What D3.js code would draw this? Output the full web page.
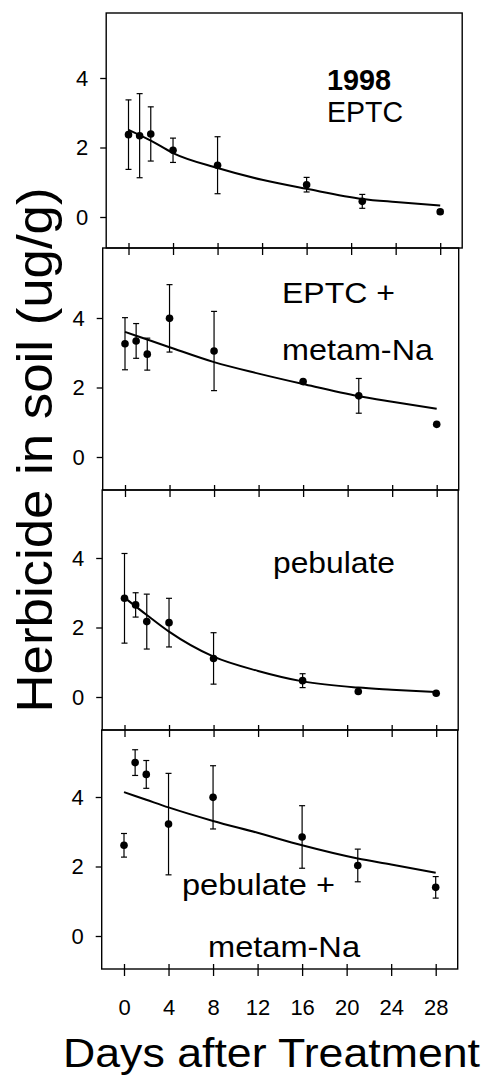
<!DOCTYPE html>
<html>
<head>
<meta charset="utf-8">
<script src="https://cdn.jsdelivr.net/npm/d3@7"></script>
<style>
  body { margin: 0; background: #fff; }
  svg { display: block; font-family: 'Liberation Sans', Arial, sans-serif; }
</style>
</head>
<body>
<svg></svg>
<script>
// sampling days and tick values
const days = [0, 1, 2, 4, 8, 16, 21, 28]
const xTicks = [0, 4, 8, 12, 16, 20, 24, 28]
const yTicks = [0, 2, 4]

// means and standard deviations (ug/g) per treatment
const eptcMean = [2.37, 2.34, 2.39, 1.92, 1.49, 0.93, 0.45, 0.15]
const eptcSd = [1.0, 1.21, 0.78, 0.35, 0.82, 0.21, 0.2, 0.06]
const eptcMetamMean = [3.26, 3.34, 2.96, 3.99, 3.05, 2.17, 1.76, 0.94]
const eptcMetamSd = [0.75, 0.5, 0.46, 0.97, 1.14, 0, 0.5, 0]
const pebulateMean = [2.84, 2.65, 2.17, 2.14, 1.11, 0.47, 0.16, 0.11]
const pebulateSd = [1.29, 0.35, 0.79, 0.7, 0.74, 0.2, 0, 0]
const pebulateMetamMean = [2.61, 4.99, 4.65, 3.22, 3.99, 2.85, 2.03, 1.4]
const pebulateMetamSd = [0.34, 0.37, 0.4, 1.46, 0.91, 0.9, 0.47, 0.31]

// fitted decay curves
const fitDays = [0, 2, 4, 8, 12, 16, 21, 24, 28]
const eptcFit = [2.51, 2.2, 1.84, 1.41, 1.07, 0.81, 0.52, 0.43, 0.33]
const eptcMetamFit = [3.6, 3.38, 3.16, 2.73, 2.4, 2.1, 1.75, 1.59, 1.39]
const pebulateFit = [2.86, 2.36, 1.88, 1.16, 0.75, 0.45, 0.27, 0.21, 0.14]
const pebulateMetamFit = [4.14, 3.92, 3.7, 3.31, 2.97, 2.61, 2.23, 2.06, 1.82]

const width = 491
const height = 1076
const svg = d3.select('svg').attr('width', width).attr('height', height)

// panel frames (the scan is slightly skewed, hence dx)
const panels = [
    {mean: eptcMean, sd: eptcSd, fit: eptcFit, top: 13, bottom: 248, zero: 217, dx: 4.5,
     labels: [{t: '1998', x: 327, y: 90, w: 64, bold: true}, {t: 'EPTC', x: 327, y: 122, w: 76}]},
    {mean: eptcMetamMean, sd: eptcMetamSd, fit: eptcMetamFit, top: 248, bottom: 490, zero: 457, dx: 1,
     labels: [{t: 'EPTC +', x: 282, y: 303, w: 113}, {t: 'metam-Na', x: 282, y: 360, w: 151}]},
    {mean: pebulateMean, sd: pebulateSd, fit: pebulateFit, top: 490, bottom: 730, zero: 697, dx: 0.5,
     labels: [{t: 'pebulate', x: 273, y: 573, w: 122}]},
    {mean: pebulateMetamMean, sd: pebulateMetamSd, fit: pebulateMetamFit, top: 730, bottom: 969, zero: 936, dx: 0,
     labels: [{t: 'pebulate +', x: 182, y: 895, w: 153}, {t: 'metam-Na', x: 208, y: 957, w: 152}]}
]

const left = 101.7
const right = 457.7
const xScale = d3.scaleLinear().domain([0, 28]).range([124, 435.7])
const font = "'Liberation Sans', Arial, sans-serif"

panels.forEach((p, i) => {
    const g = svg.append('g').attr('transform', `translate(${p.dx},0)`)
    const yScale = d3.scaleLinear().domain([0, 4]).range([p.zero, p.zero - 139])

    g.append('rect')
        .attr('x', left).attr('y', p.top)
        .attr('width', right - left).attr('height', p.bottom - p.top)
        .attr('fill', 'none').attr('stroke', '#000').attr('stroke-width', 1.4)

    // y axis
    const yAxis = d3.axisLeft(yScale).tickValues(yTicks).tickFormat(d3.format('d'))
        .tickSizeInner(6).tickSizeOuter(0).tickPadding(12)
    const ya = g.append('g').attr('transform', `translate(${left},0)`).call(yAxis)
    ya.select('.domain').remove()
    ya.selectAll('line').attr('stroke', '#000').attr('stroke-width', 1.3)
    ya.selectAll('text').attr('font-size', 22).attr('fill', '#000').style('font-family', font)

    // crossing x ticks on the bottom edge
    const xAxis = d3.axisBottom(xScale).tickValues(xTicks).tickSizeInner(7).tickSizeOuter(0).tickPadding(23)
    const xa = g.append('g').attr('transform', `translate(0,${p.bottom})`).call(xAxis)
    xa.select('.domain').remove()
    xa.selectAll('line').attr('y1', -5).attr('stroke', '#000').attr('stroke-width', 1.3)
    if (i === panels.length - 1) {
        xa.selectAll('text').attr('font-size', 22).attr('fill', '#000').style('font-family', font)
    } else {
        xa.selectAll('text').remove()
    }

    // fitted curve
    const line = d3.line()
        .x((d, j) => xScale(fitDays[j]))
        .y(d => yScale(d))
        .curve(d3.curveMonotoneX)
    g.append('path').datum(p.fit)
        .attr('d', line)
        .attr('fill', 'none').attr('stroke', '#000').attr('stroke-width', 2)

    // error bars
    const rows = days.map((d, j) => ({day: d, mean: p.mean[j], sd: p.sd[j]})).filter(r => r.sd > 0)
    const eg = g.selectAll('.err').data(rows).enter().append('g').attr('class', 'err')
        .attr('stroke', '#000').attr('stroke-width', 1.2)
    eg.append('line')
        .attr('x1', r => xScale(r.day)).attr('x2', r => xScale(r.day))
        .attr('y1', r => yScale(r.mean + r.sd)).attr('y2', r => yScale(r.mean - r.sd))
    eg.append('line')
        .attr('x1', r => xScale(r.day) - 3).attr('x2', r => xScale(r.day) + 3)
        .attr('y1', r => yScale(r.mean + r.sd)).attr('y2', r => yScale(r.mean + r.sd))
    eg.append('line')
        .attr('x1', r => xScale(r.day) - 3).attr('x2', r => xScale(r.day) + 3)
        .attr('y1', r => yScale(r.mean - r.sd)).attr('y2', r => yScale(r.mean - r.sd))

    // means
    g.selectAll('.dot').data(p.mean).enter().append('circle')
        .attr('class', 'dot')
        .attr('cx', (d, j) => xScale(days[j]))
        .attr('cy', d => yScale(d))
        .attr('r', 3.8)
        .attr('fill', '#000')

    // treatment labels
    g.selectAll('.lab').data(p.labels).enter().append('text')
        .attr('class', 'lab')
        .attr('x', d => d.x - p.dx).attr('y', d => d.y)
        .attr('font-size', 30)
        .attr('font-weight', d => d.bold ? 'bold' : 'normal')
        .attr('textLength', d => d.w).attr('lengthAdjust', 'spacingAndGlyphs')
        .attr('fill', '#000')
        .text(d => d.t)
})

// axis titles
svg.append('text')
    .attr('transform', 'translate(52,450) rotate(-90)')
    .attr('text-anchor', 'middle')
    .attr('font-size', 50)
    .attr('textLength', 525).attr('lengthAdjust', 'spacingAndGlyphs')
    .attr('fill', '#000')
    .text('Herbicide in soil (ug/g)')

svg.append('text')
    .attr('x', 63).attr('y', 1067)
    .attr('font-size', 40)
    .attr('textLength', 417).attr('lengthAdjust', 'spacingAndGlyphs')
    .attr('fill', '#000')
    .text('Days after Treatment')
</script>
</body>
</html>
